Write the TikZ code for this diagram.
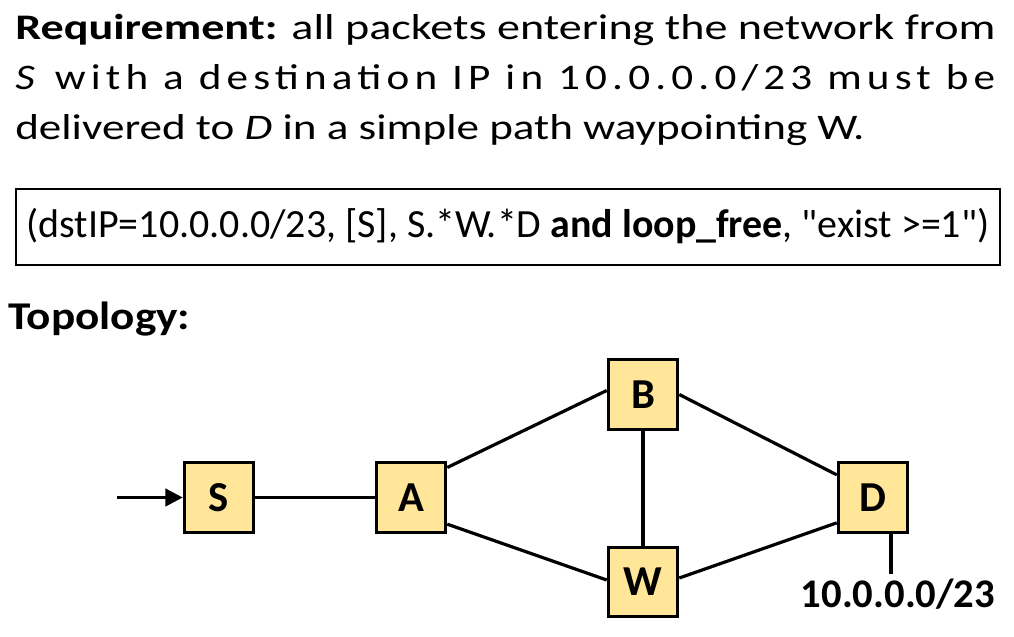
\documentclass[tikz,border=0pt]{standalone}
\usepackage{fontspec}
\setmainfont{Carlito}
\newfontfamily\codefont{Carlito}[Ligatures=TeXOff]
\usetikzlibrary{arrows.meta}
\definecolor{nodefill}{HTML}{FFE699}
\begin{document}
\begin{tikzpicture}[x=0.75pt,y=-0.75pt,
  netnode/.style={draw=black,line width=2.4pt,fill=nodefill,minimum width=52pt,minimum height=52pt,inner sep=0pt,font=\fontsize{32}{36}\selectfont\bfseries},
  link/.style={line width=2.4pt},
  heading/.style={anchor=base west,inner sep=0pt,font=\fontsize{27}{30}\selectfont}]
\useasboundingbox (0,0) rectangle (1014,636);
% requirement text
\node[heading] (l1) at (15,39) {\resizebox{735pt}{\height}{\textbf{Requirement:} all packets entering the network from}};
\node[heading] (l2) at (15,89) {\resizebox{735pt}{\height}{\addfontfeature{LetterSpace=12}\textit{S} with a destination IP in 10.0.0.0/23 must be}};
\node[heading] (l3) at (15,139) {\resizebox{637pt}{\height}{delivered to \textit{D} in a simple path waypointing W.}};
% code box
\node[draw=black,line width=1.8pt,minimum width=738pt,minimum height=57pt,inner sep=0pt] (code) at (508,227) {};
\node[inner sep=0pt,font=\codefont\fontsize{30}{34}\selectfont] (codetxt) at ([yshift=1pt]code.center) {\resizebox{722pt}{\height}{(dstIP=10.0.0.0/23, [S], S.*W.*D \textbf{and loop\_free}, "exist >=1")}};
\node[heading,font=\fontsize{29.5}{33}\selectfont\bfseries] (topo) at (8,329) {\resizebox{136.5pt}{\height}{Topology:}};
% network
\node[netnode] (S) at (219,497.5) {S};
\node[netnode] (A) at (411,497.5) {A};
\node[netnode] (B) at (643,394.5) {B};
\node[netnode] (W) at (643,582) {W};
\node[netnode] (D) at (873,497.5) {D};
\coordinate (in) at (117,497.5);
\draw[link,-{Triangle[length=13pt,width=13pt]}] (in) -- (S.west);
\draw[link] (S) -- (A);
\draw[link] ([yshift=22.5pt]A.east) -- ([yshift=3pt]B.west);
\draw[link] ([yshift=-20pt]A.east) -- ([yshift=1.5pt]W.west);
\draw[link] (B.east) -- ([yshift=17pt]D.west);
\draw[link] ([yshift=3pt]W.east) -- ([yshift=-19pt]D.west);
\draw[link] (B) -- (W);
\coordinate (dout) at ([xshift=13.5pt,yshift=-30pt]D.south);
\draw[link] ([xshift=13.5pt]D.south) -- (dout);
\node[anchor=base,inner sep=0pt,font=\fontsize{30.5}{34}\selectfont\bfseries] (net) at (898,607) {10.0.0.0/23};
\end{tikzpicture}
\end{document}
